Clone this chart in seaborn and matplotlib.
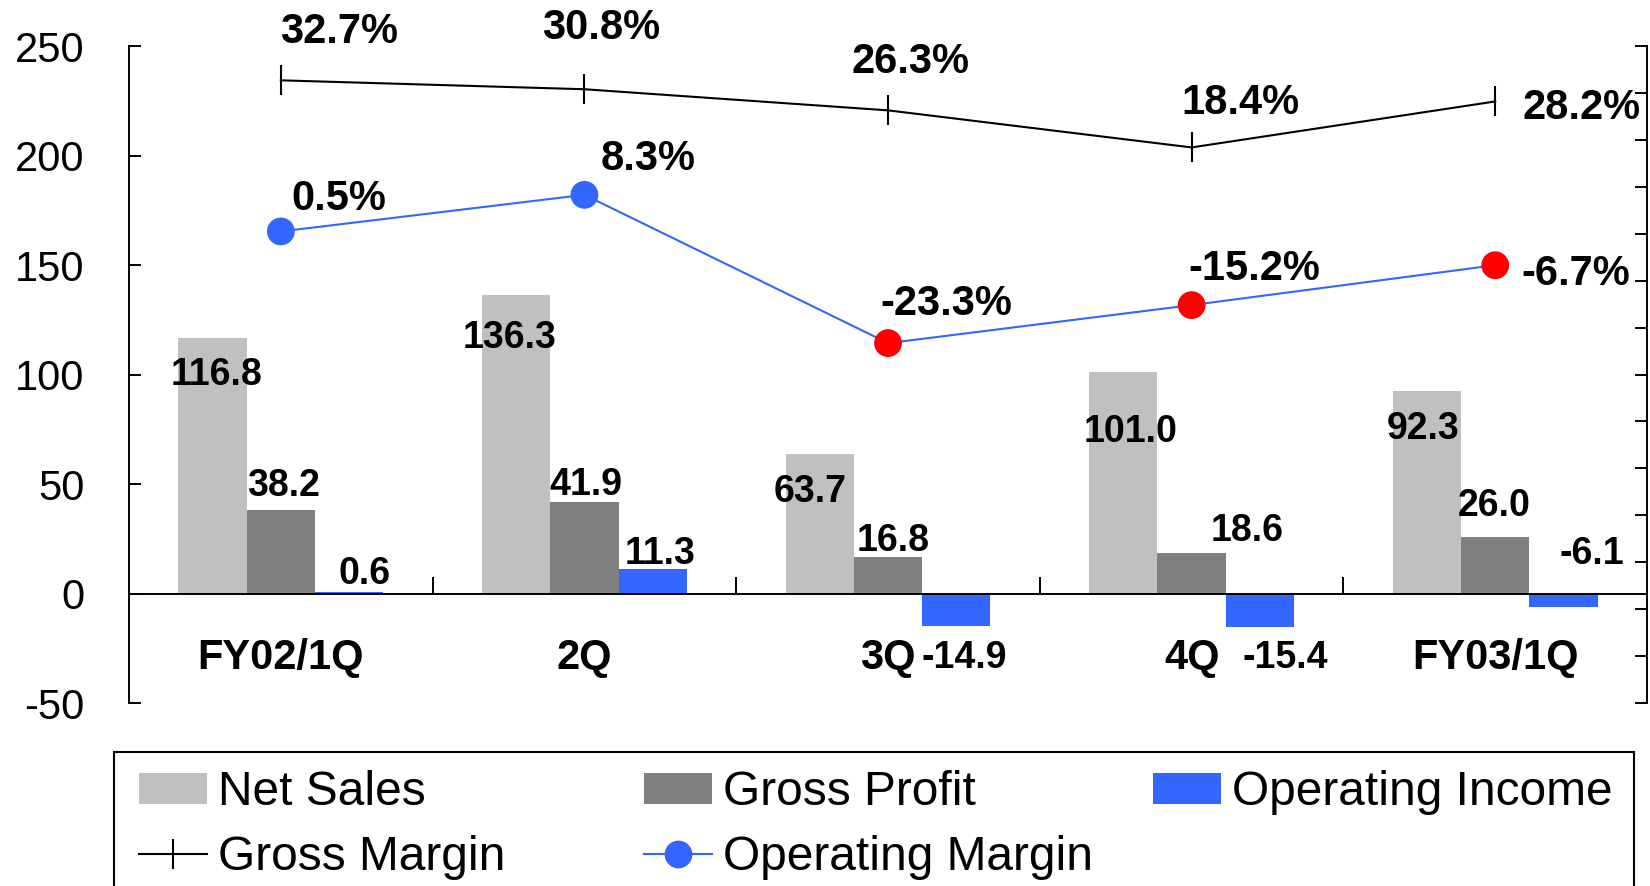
import matplotlib.pyplot as plt
import numpy as np
import pandas as pd
import seaborn as sns
from matplotlib.lines import Line2D
from matplotlib.patches import Patch, Rectangle

QUARTERS = ["FY02/1Q", "2Q", "3Q", "4Q", "FY03/1Q"]
SERIES = ["Net Sales", "Gross Profit", "Operating Income"]
NET_SALES = [116.8, 136.3, 63.7, 101.0, 92.3]
GROSS_PROFIT = [38.2, 41.9, 16.8, 18.6, 26.0]
OPERATING_INCOME = [0.6, 11.3, -14.9, -15.4, -6.1]
GROSS_MARGIN = [32.7, 30.8, 26.3, 18.4, 28.2]
OPERATING_MARGIN = [0.5, 8.3, -23.3, -15.2, -6.7]

BAR_COLORS = ["#C0C0C0", "#808080", "#3366FF"]
LINE_BLUE = "#3366FF"
NEG_RED = "#FF0000"

# label nudges in points (dx, dy), one list per series
BAR_LABEL_OFFSETS = [
    [(3, -27), (-5, -31), (-7, -27), (5, -43), (-3, -27)],
    [(2, 17), (1, 12), (4, 11), (40, 16), (-1, 22)],
    [(11, 13), (5, 11), (6, -23), (18, -22), (20, 38)],
]
GM_LABEL_OFFSETS = [(42, 35), (12, 44), (16, 35), (35, 32), (62, -5)]
OM_LABEL_OFFSETS = [(42, 23), (46, 26), (42, 28), (45, 26), (58, -6)]

plt.rcParams["font.family"] = ["Liberation Sans", "DejaVu Sans"]
plt.rcParams["axes.linewidth"] = 1.4
plt.rcParams["axes.unicode_minus"] = False

fig = plt.figure(figsize=(16.5, 8.86), dpi=100)
ax = fig.add_axes([0.0782, 0.2065, 0.92, 0.7415])

bars = pd.DataFrame({
    "quarter": QUARTERS * len(SERIES),
    "series": np.repeat(SERIES, len(QUARTERS)),
    "value": NET_SALES + GROSS_PROFIT + OPERATING_INCOME,
})
sns.barplot(data=bars, x="quarter", y="value", hue="series", order=QUARTERS,
            hue_order=SERIES, palette=BAR_COLORS, width=0.675, saturation=1,
            errorbar=None, linewidth=0, legend=False, ax=ax)

ax.set_xlabel("")
ax.set_ylabel("")
ax.set_ylim(-50, 250)
ax.set_yticks(range(-50, 251, 50))
ax.spines[["top", "right"]].set_visible(False)
ax.spines["bottom"].set_position(("data", 0))
ax.tick_params(axis="y", direction="in", length=8.6, width=1.4, pad=32, labelsize=30)
ax.set_xticks(np.arange(len(QUARTERS)), labels=QUARTERS)
ax.set_xticks(np.arange(len(QUARTERS) - 1) + 0.5, minor=True)
ax.tick_params(axis="x", which="major", length=0, pad=32, labelsize=30)
ax.tick_params(axis="x", which="minor", direction="in", length=12, width=1.4)
for lbl in ax.get_xticklabels():
    lbl.set_fontweight("bold")

# value labels on bars
series_values = [NET_SALES, GROSS_PROFIT, OPERATING_INCOME]
for container, values, offsets in zip(ax.containers, series_values, BAR_LABEL_OFFSETS):
    for bar, v, (dx, dy) in zip(container, values, offsets):
        ax.annotate(f"{v:.1f}", xy=(bar.get_x() + bar.get_width() / 2, v),
                    xytext=(dx, dy), textcoords="offset points",
                    ha="center", va="center", fontsize=27, fontweight="bold")

# margins on the secondary axis
ax2 = ax.twinx()
idx = np.arange(len(QUARTERS))
sns.lineplot(x=idx, y=GROSS_MARGIN, color="black", linewidth=1.5, marker="|",
             markersize=21, markeredgewidth=1.5, markeredgecolor="black", ax=ax2)
sns.lineplot(x=idx, y=OPERATING_MARGIN, color=LINE_BLUE, linewidth=1.5, ax=ax2)
sign = ["pos" if v >= 0 else "neg" for v in OPERATING_MARGIN]
sns.scatterplot(x=idx, y=OPERATING_MARGIN, hue=sign, palette={"pos": LINE_BLUE, "neg": NEG_RED},
                s=400, linewidth=0, legend=False, zorder=3, ax=ax2)

ax2.set_ylim(-100, 40)
ax2.set_yticks(range(-100, 41, 10))
ax2.tick_params(axis="y", direction="in", length=8.6, width=1.4, labelright=False)
ax2.spines[["left", "top", "bottom"]].set_visible(False)

for i, (v, (dx, dy)) in enumerate(zip(GROSS_MARGIN, GM_LABEL_OFFSETS)):
    ax2.annotate(f"{v:.1f}%", xy=(i, v), xytext=(dx, dy), textcoords="offset points",
                 ha="center", va="center", fontsize=30, fontweight="bold")
for i, (v, (dx, dy)) in enumerate(zip(OPERATING_MARGIN, OM_LABEL_OFFSETS)):
    ax2.annotate(f"{v:.1f}%", xy=(i, v), xytext=(dx, dy), textcoords="offset points",
                 ha="center", va="center", fontsize=30, fontweight="bold")

ax.set_xlim(-0.5, len(QUARTERS) - 0.5)

# legend: equal-width columns inside one box
leg_kw = dict(loc="upper left", frameon=False, fontsize=34.5, borderpad=0,
              borderaxespad=0, handlelength=1.42, handleheight=0.62,
              handletextpad=0.23, labelspacing=0.42)
columns = [
    ([Patch(facecolor=BAR_COLORS[0], edgecolor="none"),
      Line2D([], [], color="black", linewidth=1.5, marker="|", markersize=21, markeredgewidth=1.5)],
     [SERIES[0], "Gross Margin"]),
    ([Patch(facecolor=BAR_COLORS[1], edgecolor="none"),
      Line2D([], [], color=LINE_BLUE, linewidth=1.5, marker="o", markersize=20, markeredgewidth=0)],
     [SERIES[1], "Operating Margin"]),
    ([Patch(facecolor=BAR_COLORS[2], edgecolor="none")], [SERIES[2]]),
]
for x0, (handles, labels) in zip([0.0842, 0.3903, 0.6988], columns):
    fig.legend(handles, labels, bbox_to_anchor=(x0, 0.131), **leg_kw)

fig.add_artist(Rectangle((0.0688, -0.1), 0.9216, 0.2508, transform=fig.transFigure,
                         fill=False, edgecolor="black", linewidth=1.5, clip_on=False))

fig.savefig("out.png", dpi=100)
